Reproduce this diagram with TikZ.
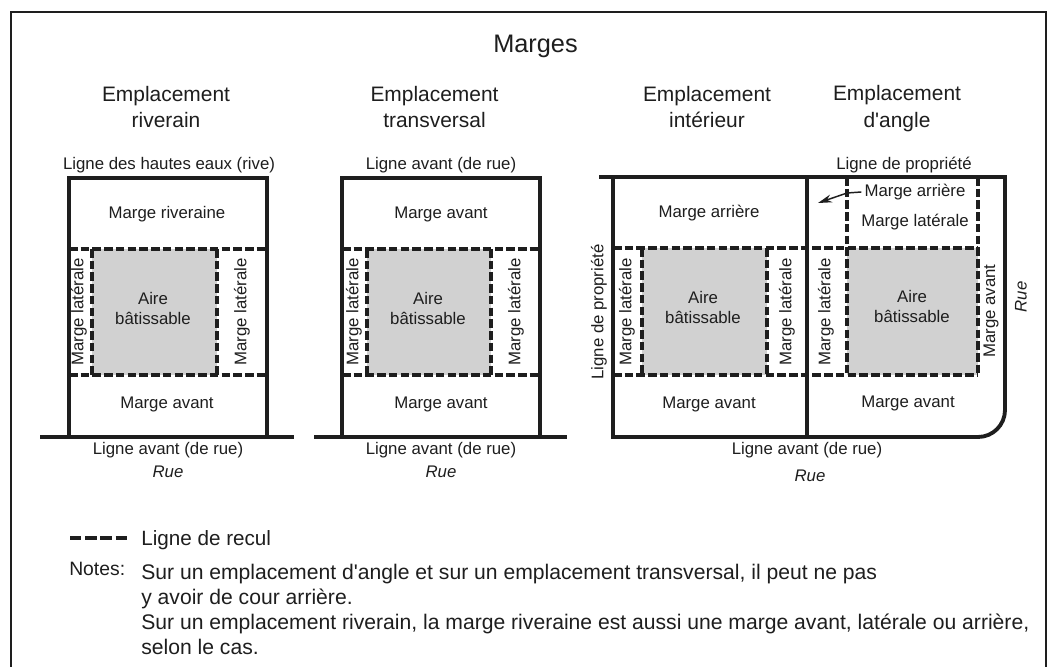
\documentclass[tikz,border=0pt]{standalone}
\usepackage{fontspec}
\setmainfont{Liberation Sans}[Ligatures=TeXOff]
\usetikzlibrary{arrows.meta}
\definecolor{ink}{HTML}{1E1E1E}
\tikzset{
  x=0.75pt,y=-0.75pt,
  solidl/.style={draw=ink,line width=2.9pt},
  reculline/.style={draw=ink,line width=2.6pt,dash pattern=on 6.4pt off 2.4pt},
  lbl/.style={inner sep=0pt,text=ink,font=\fontsize{12.6}{15}\selectfont,align=center},
  vlbl/.style={lbl,rotate=90},
  itl/.style={lbl,font=\fontsize{12.6}{15}\selectfont\itshape},
  head/.style={inner sep=0pt,text=ink,font=\fontsize{15.7}{19.8}\selectfont,align=center},
  note/.style={inner sep=0pt,text=ink,font=\fontsize{15.85}{18}\selectfont,anchor=base west},
  zone/.style={fill=black!18,draw=none}
}
\begin{document}
\begin{tikzpicture}
\useasboundingbox (0,0) rectangle (1057,667);
\fill[white] (0,0) rectangle (1057,667);
% frame
\coordinate (fbl) at (11,667); \coordinate (ftl) at (11,12);
\coordinate (ftr) at (1046,12); \coordinate (fbr) at (1046,667);
\draw[ink,line width=1.5pt] (fbl) -- (ftl) -- (ftr) -- (fbr);
\node[head,font=\fontsize{19}{20}\selectfont] (title) at (535.5,46) {Marges};
\node[head] (h1) at (166,107) {Emplacement\\riverain};
\node[head] (h2) at (434.5,107) {Emplacement\\transversal};
\node[head] (h3) at (707,107) {Emplacement\\intérieur};
\node[head] (h4) at (897,108.5) {Emplacement\\d'angle};
% Panel 1
\fill[zone] (92,249) rectangle (217,375);
\draw[solidl] (69,437) |- (267,178) -- (267,437);
\draw[solidl] (40,437) -- (294,437);
\draw[reculline] (69,249) -- (267,249);
\draw[reculline] (69,375) -- (267,375);
\draw[reculline] (92,249) -- (92,375);
\draw[reculline] (217,249) -- (217,375);
\node[lbl] (p1top) at (169,165) {Ligne des hautes eaux (rive)};
\node[lbl] (p1a) at (167,214) {Marge riveraine};
\node[vlbl] (p1b) at (79,312) {Marge latérale};
\node[vlbl] (p1c) at (242,312) {Marge latérale};
\node[lbl] (p1d) at (153,308) {Aire\\bâtissable};
\node[lbl] (p1e) at (167,404) {Marge avant};
\node[lbl] (p1f) at (168,450) {Ligne avant (de rue)};
\node[itl] (p1g) at (168,472) {Rue};
% Panel 2
\fill[zone] (367,249) rectangle (491,375);
\draw[solidl] (342,437) |- (540,178) -- (540,437);
\draw[solidl] (314,437) -- (567,437);
\draw[reculline] (342,249) -- (540,249);
\draw[reculline] (342,375) -- (540,375);
\draw[reculline] (367,249) -- (367,375);
\draw[reculline] (491,249) -- (491,375);
\node[lbl] (p2top) at (441,165) {Ligne avant (de rue)};
\node[lbl] (p2a) at (441,214) {Marge avant};
\node[vlbl] (p2b) at (354,312) {Marge latérale};
\node[vlbl] (p2c) at (516,312) {Marge latérale};
\node[lbl] (p2d) at (428,308) {Aire\\bâtissable};
\node[lbl] (p2e) at (441,404) {Marge avant};
\node[lbl] (p2f) at (441,450) {Ligne avant (de rue)};
\node[itl] (p2g) at (441,472) {Rue};
% Panel 3
\fill[zone] (642,248) rectangle (767,375);
\fill[zone] (847,248) rectangle (978,375);
\draw[solidl] (599,177) -- (1005,177) -- (1005,410) arc[start angle=0,end angle=90,radius=27] -- (613,437) -- (613,177);
\draw[solidl] (807,177) -- (807,437);
\draw[reculline] (613,248) -- (978,248);
\draw[reculline] (613,375) -- (978,375);
\draw[reculline] (642,248) -- (642,375);
\draw[reculline] (767,248) -- (767,375);
\draw[reculline] (847,177) -- (847,375);
\draw[reculline] (978,177) -- (978,375);
\node[lbl] (p3top) at (904,165) {Ligne de propriété};
\node[lbl] (p3arr) at (915,192) {Marge arrière};
\coordinate (p3tip) at (818,203);
\draw[ink,line width=1.1pt,-{Stealth[length=10.5pt,width=6pt]}] (p3arr.west) ++(-3,0) -- (847,193) -- (p3tip);
\node[lbl] (p3lat) at (915,222) {Marge latérale};
\node[lbl] (p3a) at (709,213) {Marge arrière};
\node[vlbl] (p3b) at (599,312) {Ligne de propriété};
\node[vlbl] (p3c) at (627,312) {Marge latérale};
\node[vlbl] (p3d) at (787,312) {Marge latérale};
\node[vlbl] (p3e) at (826,312) {Marge latérale};
\node[vlbl] (p3f) at (991,311) {Marge avant};
\node[itl,rotate=90] (p3g) at (1021,297) {Rue};
\node[lbl] (p3h) at (703,307) {Aire\\bâtissable};
\node[lbl] (p3i) at (912,306) {Aire\\bâtissable};
\node[lbl] (p3j) at (709,404) {Marge avant};
\node[lbl] (p3k) at (908,403) {Marge avant};
\node[lbl] (p3l) at (807,450) {Ligne avant (de rue)};
\node[itl] (p3m) at (810,476) {Rue};
% Legend
\coordinate (la) at (70,538); \coordinate (lb) at (127,538);
\draw[ink,line width=2.4pt,dash pattern=on 8.6pt off 2.8pt] (la) -- (lb);
\node[note,font=\fontsize{15.5}{18}\selectfont] (leg) at (141,545) {Ligne de recul};
\node[note,font=\fontsize{14.5}{18}\selectfont] (notes) at (69,575) {Notes:};
\node[note] (n1) at (141,579) {Sur un emplacement d'angle et sur un emplacement transversal, il peut ne pas};
\node[note] (n2) at (141,604) {y avoir de cour arrière.};
\node[note] (n3) at (141,629) {Sur un emplacement riverain, la marge riveraine est aussi une marge avant, latérale ou arrière,};
\node[note] (n4) at (141,654) {selon le cas.};
\end{tikzpicture}
\end{document}
